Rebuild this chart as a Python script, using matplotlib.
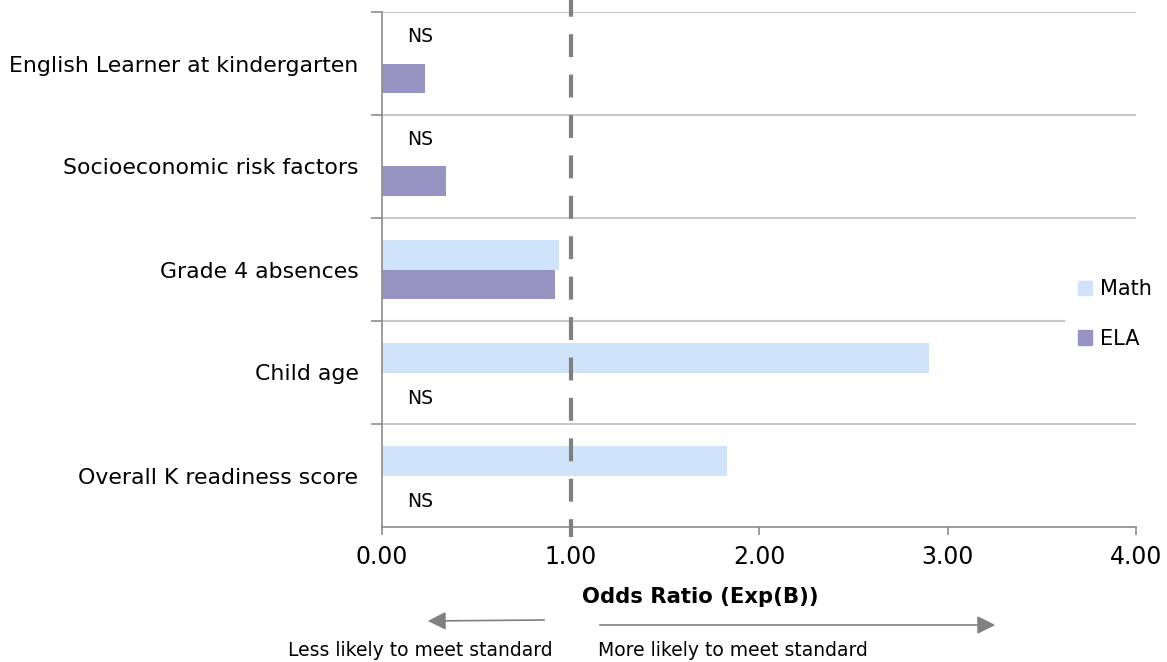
import numpy as np
import matplotlib.pyplot as plt
from matplotlib.patches import Patch

plt.rcParams['font.family'] = ['DejaVu Sans']

# bottom to top
categories = ["Overall K readiness score", "Child age", "Grade 4 absences",
              "Socioeconomic risk factors", "English Learner at kindergarten"]
math_values = [1.83, 2.90, 0.94, None, None]
ela_values = [None, None, 0.92, 0.34, 0.23]
x_ticks = [0, 1, 2, 3, 4]

math_color = "#cfe3fb"
ela_color = "#9794c4"
grid_color = "#c9c9c9"
axis_color = "#8c8c8c"

fig = plt.figure(figsize=(11.67, 6.62), dpi=100)
ax = fig.add_axes([382 / 1167, 1 - 527 / 662, (1136 - 382) / 1167, (527 - 12) / 662])

y = np.arange(len(categories))
h = 0.286

for i in range(len(categories)):
    if math_values[i] is not None:
        ax.barh(y[i] + h / 2, math_values[i], height=h, color=math_color, zorder=2)
    else:
        ax.text(0.2, y[i] + (0.26 if i > 2 else -0.25), "NS", ha="center", va="center",
                fontsize=13.5, zorder=3)
    if ela_values[i] is not None:
        ax.barh(y[i] - h / 2, ela_values[i], height=h, color=ela_color, zorder=2)
    else:
        ax.text(0.2, y[i] - 0.25, "NS", ha="center", va="center", fontsize=13.5, zorder=3)

ax.set_xlim(0, 4)
ax.set_ylim(-0.5, len(categories) - 0.5)

ax.set_xticks(x_ticks)
ax.set_xticklabels([f"{v:.2f}" for v in x_ticks], fontsize=17)
ax.set_yticks(y)
ax.set_yticklabels(categories, fontsize=15.8)
ax.set_yticks(np.arange(len(categories)) + 0.5, minor=True)
ax.tick_params(axis="y", which="major", length=0, pad=17)
ax.tick_params(axis="y", which="minor", length=8, width=1.2, color=axis_color)
ax.tick_params(axis="x", length=6, width=1.2, color=axis_color, pad=7)
ax.grid(axis="y", which="minor", color=grid_color, linewidth=1.5, zorder=1)

for side in ["top", "right"]:
    ax.spines[side].set_visible(False)
for side in ["left", "bottom"]:
    ax.spines[side].set_color(axis_color)
    ax.spines[side].set_linewidth(1.2)

# reference line at odds ratio 1
ax.plot([1, 1], [1.0233, -0.0194], transform=ax.get_xaxis_transform(),
        color="#808080", linewidth=3, linestyle=(1.5, (5.5, 4.2)),
        clip_on=False, zorder=4)

handles = [Patch(color=math_color, label="Math"), Patch(color=ela_color, label="ELA")]
leg = fig.legend(handles=handles, loc="center left", bbox_to_anchor=(1065 / 1167, 1 - 314 / 662),
                 frameon=True, facecolor="white", edgecolor="none", framealpha=1,
                 fontsize=15, handlelength=0.7, handleheight=0.7, handletextpad=0.4,
                 labelspacing=1.4, borderpad=0.6, borderaxespad=0)
leg.get_frame().set_boxstyle("square", pad=0)

fig.text(700 / 1167, 1 - 597 / 662, "Odds Ratio (Exp(B))", ha="center", va="center",
         fontsize=15.2, fontweight="bold")

arrow_style = dict(arrowstyle="-|>,head_length=1.1,head_width=0.55", color="#808080", lw=1.2)
ax.annotate("", xy=(425 / 1167, 1 - 621 / 662), xytext=(547 / 1167, 1 - 620 / 662),
            xycoords="figure fraction", arrowprops=arrow_style)
ax.annotate("", xy=(998 / 1167, 1 - 625 / 662), xytext=(597 / 1167, 1 - 625 / 662),
            xycoords="figure fraction", arrowprops=arrow_style)
fig.text(553 / 1167, 1 - 650 / 662, "Less likely to meet standard", ha="right", va="center",
         fontsize=13.5)
fig.text(598 / 1167, 1 - 650 / 662, "More likely to meet standard", ha="left", va="center",
         fontsize=13.5)

fig.savefig("out.png", dpi=100, facecolor="white")
